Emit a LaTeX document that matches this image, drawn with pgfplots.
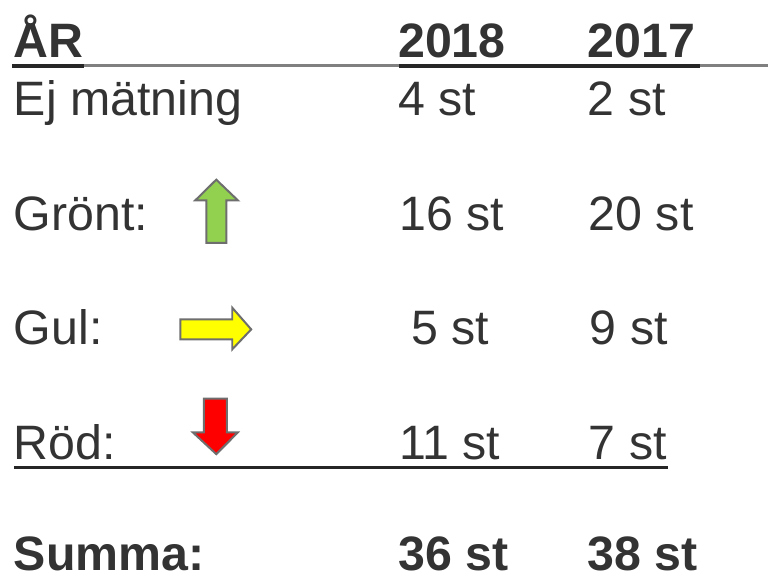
\documentclass[border=0pt]{standalone}
\usepackage{pgfplots}
\pgfplotsset{compat=1.18}
\usepackage{fontspec}
\setmainfont{Liberation Sans}
\definecolor{txt}{RGB}{51,51,51}
\definecolor{dark}{RGB}{38,38,38}
\definecolor{midgray}{RGB}{128,128,128}
\definecolor{edge}{RGB}{110,110,110}
\definecolor{agreen}{RGB}{146,208,80}
\definecolor{ayellow}{RGB}{255,255,0}
\definecolor{ared}{RGB}{255,0,0}
\begin{document}
\begin{tikzpicture}[lbl/.style={inner sep=0pt, outer sep=0pt, anchor=base west, text=txt, font=\fontsize{24.2}{29}\selectfont}]
\begin{axis}[
  scale only axis, width=384.5pt, height=289.5pt,
  xmin=0, xmax=769, ymin=0, ymax=579, y dir=reverse,
  hide axis, clip=false,
]
% frame for bounding box
\addplot[draw=none, mark=none] coordinates {(0,0) (769,579)};
% header underline
\addplot[midgray, line width=1.5pt, mark=none] coordinates {(82,66) (401,66)};
\addplot[midgray, line width=1.5pt, mark=none] coordinates {(699,66) (769,66)};
\addplot[dark, line width=2pt, mark=none] coordinates {(12,66) (84,66)};
\addplot[dark, line width=2pt, mark=none] coordinates {(400,66) (701,66)};
% Röd underline
\addplot[dark, line width=1.5pt, mark=none] coordinates {(14,468) (669,468)};
% arrows
\addplot[fill=agreen, draw=edge, line width=1pt, mark=none, line join=miter]
  coordinates {(216.7,180) (238.3,200.7) (226.7,200.7) (226.7,243.3) (206.7,243.3) (206.7,200.7) (195.7,200.7)} -- cycle;
\addplot[fill=ayellow, draw=edge, line width=1pt, mark=none, line join=miter]
  coordinates {(251.7,330) (232.7,350) (232.7,340) (180.7,340) (180.7,320) (232.7,320) (232.7,308.3)} -- cycle;
\addplot[fill=ared, draw=edge, line width=1pt, mark=none, line join=miter]
  coordinates {(216.7,455) (193.3,433.3) (204.3,433.3) (204.3,399.3) (227.3,399.3) (227.3,433.3) (238.3,433.3)} -- cycle;
% header
\node[lbl] at (axis cs:14,58) {\bfseries ÅR};
\node[lbl] at (axis cs:399,58) {\bfseries 2018};
\node[lbl] at (axis cs:589,58) {\bfseries 2017};
% rows
\node[lbl] at (axis cs:14,116) {Ej mätning};
\node[lbl] at (axis cs:399,116) {4 st};
\node[lbl] at (axis cs:589,116) {2 st};
\node[lbl] at (axis cs:14,231) {Grönt:};
\node[lbl] at (axis cs:400,231) {16 st};
\node[lbl] at (axis cs:590,231) {20 st};
\node[lbl] at (axis cs:14,345) {Gul:};
\node[lbl] at (axis cs:412,345) {5 st};
\node[lbl] at (axis cs:591,345) {9 st};
\node[lbl] at (axis cs:14,460) {Röd:};
\node[lbl] at (axis cs:400,460) {11 st};
\node[lbl] at (axis cs:590,460) {7 st};
\node[lbl] at (axis cs:14,572) {\bfseries Summa:};
\node[lbl] at (axis cs:399,572) {\bfseries 36 st};
\node[lbl] at (axis cs:589,572) {\bfseries 38 st};
\end{axis}
\end{tikzpicture}
\end{document}
